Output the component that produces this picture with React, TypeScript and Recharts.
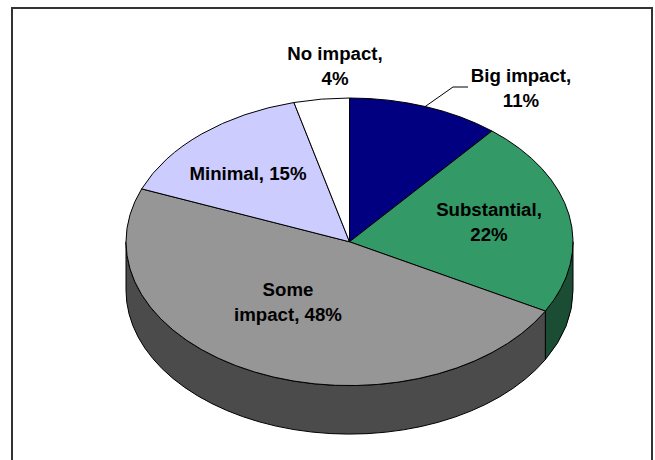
import { PieChart, Pie } from "recharts";

const CATEGORIES = ["Big impact", "Substantial", "Some impact", "Minimal", "No impact"];
const VALUES = [11, 22, 48, 15, 4];
const FACE_COLORS = ["#000080", "#339966", "#969696", "#ccccff", "#ffffff"];
const WALL_COLORS = ["#000040", "#1a4d33", "#4b4b4b", "#666680", "#808080"];
const LABEL_LINES = [
  ["Big impact,", "11%"],
  ["Substantial,", "22%"],
  ["Some", "impact, 48%"],
  ["Minimal, 15%"],
  ["No impact,", "4%"],
];

const sliceData = CATEGORIES.map((name, i) => ({
  name,
  value: VALUES[i],
  fill: FACE_COLORS[i],
  wall: WALL_COLORS[i],
}));

const WIDTH = 655;
const HEIGHT = 460;
const CX = 349.5;
const CY = 241.8;
const RX = 223.5;
const RY = 143.8;
const DEPTH = 48.5;
const RAD = Math.PI / 180;

// where each label's block of text is centred
const LABEL_POS = [
  { x: 521, y: 88 },
  { x: 489, y: 222 },
  { x: 288, y: 302 },
  { x: 248, y: 173 },
  { x: 335, y: 66 },
];
const LINE_HEIGHT = 25;

// the pie is tilted, so every angle is projected onto an ellipse
const onRim = (angle: number, dy = 0) => ({
  x: CX + RX * Math.cos(angle * RAD),
  y: CY + dy - RY * Math.sin(angle * RAD),
});

function TopSlice(props: any) {
  const { startAngle, endAngle, fill } = props;
  const a = onRim(startAngle);
  const b = onRim(endAngle);
  const large = Math.abs(startAngle - endAngle) > 180 ? 1 : 0;
  return (
    <path
      d={`M${CX},${CY} L${a.x},${a.y} A${RX},${RY} 0 ${large} 1 ${b.x},${b.y} Z`}
      fill={fill}
      stroke="#000"
      strokeWidth={1}
      strokeLinejoin="round"
    />
  );
}

// side wall, only for the part of the slice facing the viewer
function WallSlice(props: any) {
  const { startAngle, endAngle, payload } = props;
  const from = Math.min(startAngle, 0);
  const to = Math.max(endAngle, -180);
  if (from <= to) return null;
  const a = onRim(from);
  const b = onRim(to);
  const c = onRim(to, DEPTH);
  const d = onRim(from, DEPTH);
  return (
    <path
      d={`M${a.x},${a.y} A${RX},${RY} 0 0 1 ${b.x},${b.y} L${c.x},${c.y} A${RX},${RY} 0 0 0 ${d.x},${d.y} Z`}
      fill={payload?.wall ?? props.wall}
      stroke="#000"
      strokeWidth={1}
      strokeLinejoin="round"
    />
  );
}

function SliceLabel(props: any) {
  const { index, midAngle } = props;
  const lines = LABEL_LINES[index];
  const pos = LABEL_POS[index];
  const top = pos.y - ((lines.length - 1) * LINE_HEIGHT) / 2 + 6.5;
  const rim = onRim(midAngle);
  return (
    <g>
      {index === 0 && (
        <polyline
          points={`${rim.x},${rim.y} 453,87 468,87`}
          fill="none"
          stroke="#000"
          strokeWidth={1}
        />
      )}
      <text
        x={pos.x}
        y={top}
        textAnchor="middle"
        fontFamily="'Liberation Sans', Arial, sans-serif"
        fontWeight="bold"
        fontSize={18.67}
        fill="#000"
      >
        {lines.map((line, i) => (
          <tspan key={line} x={pos.x} dy={i === 0 ? 0 : LINE_HEIGHT}>
            {line}
          </tspan>
        ))}
      </text>
    </g>
  );
}

export default function App() {
  return (
    <div
      style={{
        position: "absolute",
        left: 0,
        top: 0,
        width: WIDTH,
        height: HEIGHT,
        overflow: "hidden",
        background: "#fff",
      }}
    >
      <div
        style={{
          position: "absolute",
          left: 11,
          top: 7,
          width: 638,
          height: 480,
          border: "2px solid #333",
          boxSizing: "content-box",
        }}
      />
      <div style={{ position: "absolute", left: 0, top: 0 }}>
        <PieChart width={WIDTH} height={HEIGHT} margin={{ top: 0, right: 0, bottom: 0, left: 0 }}>
          <Pie
            data={sliceData}
            dataKey="value"
            nameKey="name"
            cx={CX}
            cy={CY}
            outerRadius={RX}
            startAngle={90}
            endAngle={-270}
            shape={WallSlice}
            isAnimationActive={false}
            rootTabIndex={-1}
          />
          <Pie
            data={sliceData}
            dataKey="value"
            nameKey="name"
            cx={CX}
            cy={CY}
            outerRadius={RX}
            startAngle={90}
            endAngle={-270}
            shape={TopSlice}
            label={SliceLabel}
            labelLine={false}
            isAnimationActive={false}
            rootTabIndex={-1}
          />
        </PieChart>
      </div>
    </div>
  );
}
